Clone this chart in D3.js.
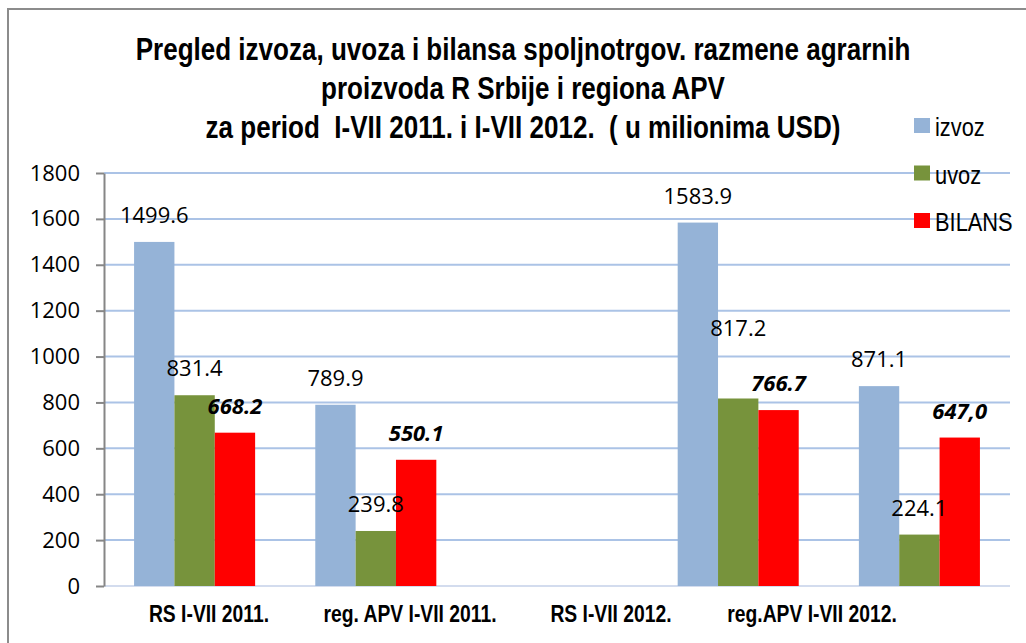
<!DOCTYPE html>
<html>
<head>
<meta charset="utf-8">
<script src="https://cdn.jsdelivr.net/npm/d3@7"></script>
<style>
  body { margin: 0; background: #fff; }
  svg { display: block; }
  .narrow { font-family: "Liberation Sans", Arial, sans-serif; }
  .num { font-family: "Open Sans", "Noto Sans", sans-serif; }
</style>
</head>
<body>
<div id="chart"></div>
<script>
// categories of the bar slots (the third slot is empty in the original)
var slots = ["RS I-VII 2011.", "reg. APV I-VII 2011.", "-", "RS I-VII 2012.", "reg.APV I-VII 2012."];
// category texts shown below the axis
var catLabels = ["RS I-VII 2011.", "reg. APV I-VII 2011.", "RS I-VII 2012.", "reg.APV I-VII 2012."];
var seriesNames = ["izvoz", "uvoz", "BILANS"];
var izvoz  = [1499.6, 789.9, null, 1583.9, 871.1];
var uvoz   = [831.4, 239.8, null, 817.2, 224.1];
var bilans = [668.2, 550.1, null, 766.7, 647.0];
var bilansText = ["668.2", "550.1", null, "766.7", "647,0"];
var yTicks = [0, 200, 400, 600, 800, 1000, 1200, 1400, 1600, 1800];
var titleLines = [
  "Pregled izvoza, uvoza i bilansa spoljnotrgov. razmene agrarnih",
  "proizvoda R Srbije i regiona APV",
  "za period  I-VII 2011. i I-VII 2012.  ( u milionima USD)"
];

var colors = {izvoz: "#95b3d7", uvoz: "#77933c", BILANS: "#ff0000"};
var narrowScale = 0.84;   // the original uses a condensed face

var width = 1026, height = 643;
var plot = {left: 104, right: 1010, top: 173, bottom: 586};

var svg = d3.select("#chart").append("svg")
    .attr("width", width)
    .attr("height", height);

// outer frame
svg.append("rect")
    .attr("x", 8).attr("y", 9)
    .attr("width", 1040).attr("height", 660)
    .attr("fill", "none")
    .attr("stroke", "#8c8c8c")
    .attr("stroke-width", 2);

var x = d3.scaleBand()
    .domain(slots)
    .range([plot.left, plot.right])
    .paddingInner(0.332)
    .paddingOuter(0.166);

var xs = d3.scaleBand()
    .domain(seriesNames)
    .range([0, x.bandwidth()]);

var y = d3.scaleLinear()
    .domain([0, 1800])
    .range([plot.bottom, plot.top]);

// gridlines
svg.append("g")
  .selectAll("line")
  .data(yTicks)
  .enter().append("line")
    .attr("x1", plot.left)
    .attr("x2", plot.right)
    .attr("y1", function(d) { return y(d); })
    .attr("y2", function(d) { return y(d); })
    .attr("stroke", function(d) { return d === 0 ? "#d3dcee" : "#abc3e6"; })
    .attr("stroke-width", 2);

// y axis
var yAxis = svg.append("g")
    .attr("transform", "translate(" + plot.left + ",0)")
    .call(d3.axisLeft(y).tickValues(yTicks).tickFormat(d3.format("d"))
      .tickSize(8).tickPadding(16).tickSizeOuter(0));
yAxis.select(".domain").attr("stroke", "#868686").attr("stroke-width", 2);
yAxis.selectAll(".tick line").attr("stroke", "#868686").attr("stroke-width", 2);
yAxis.selectAll(".tick text")
    .attr("class", "num")
    .attr("font-size", 22)
    .attr("fill", "#000");

// bars
var rows = slots.map(function(s, i) {
  return [
    {key: "izvoz", slot: s, value: izvoz[i], text: izvoz[i] == null ? null : izvoz[i].toFixed(1), bold: false},
    {key: "uvoz", slot: s, value: uvoz[i], text: uvoz[i] == null ? null : uvoz[i].toFixed(1), bold: false},
    {key: "BILANS", slot: s, value: bilans[i], text: bilansText[i], bold: true}
  ];
});
var flat = d3.merge(rows).filter(function(d) { return d.value != null; });

svg.append("g")
  .selectAll("rect")
  .data(flat)
  .enter().append("rect")
    .attr("x", function(d) { return x(d.slot) + xs(d.key); })
    .attr("width", xs.bandwidth())
    .attr("y", function(d) { return y(d.value); })
    .attr("height", function(d) { return y(0) - y(d.value); })
    .attr("fill", function(d) { return colors[d.key]; });

// value labels; one label was dragged up by hand in the original
function labelLift(d) {
  return (d.key === "uvoz" && d.slot === "RS I-VII 2012.") ? 62 : 19;
}

svg.append("g")
  .selectAll("text")
  .data(flat)
  .enter().append("text")
    .attr("class", "num")
    .attr("x", function(d) { return x(d.slot) + xs(d.key) + xs.bandwidth() / 2; })
    .attr("y", function(d) { return y(d.value) - labelLift(d); })
    .attr("text-anchor", "middle")
    .attr("font-size", 22)
    .attr("font-weight", function(d) { return d.bold ? "bold" : "normal"; })
    .attr("font-style", function(d) { return d.bold ? "italic" : "normal"; })
    .text(function(d) { return d.text; });

// category labels (text boxes, not centred on the bar groups)
var xl = d3.scalePoint()
    .domain(catLabels)
    .range([209, 812]);

svg.append("g")
  .selectAll("text")
  .data(catLabels)
  .enter().append("text")
    .attr("class", "narrow")
    .attr("transform", function(d) { return "translate(" + xl(d) + ",622) scale(" + narrowScale + ",1)"; })
    .attr("text-anchor", "middle")
    .attr("font-size", 23)
    .attr("font-weight", "bold")
    .text(function(d) { return d; });

// title
svg.append("g")
  .selectAll("text")
  .data(titleLines)
  .enter().append("text")
    .attr("class", "narrow")
    .attr("transform", function(d, i) { return "translate(523," + (60 + i * 39) + ") scale(" + narrowScale + ",1)"; })
    .attr("text-anchor", "middle")
    .attr("font-size", 31)
    .attr("font-weight", "bold")
    .style("white-space", "pre")
    .text(function(d) { return d; });

// legend
var legend = svg.append("g")
  .selectAll("g")
  .data(seriesNames)
  .enter().append("g")
    .attr("transform", function(d, i) { return "translate(914," + (118 + i * 47.5) + ")"; });

legend.append("rect")
    .attr("width", 16)
    .attr("height", 15)
    .attr("fill", function(d) { return colors[d]; });

legend.append("text")
    .attr("class", "narrow")
    .attr("transform", "translate(21,18) scale(" + narrowScale + ",1)")
    .attr("font-size", 26)
    .text(function(d) { return d; });
</script>
</body>
</html>
